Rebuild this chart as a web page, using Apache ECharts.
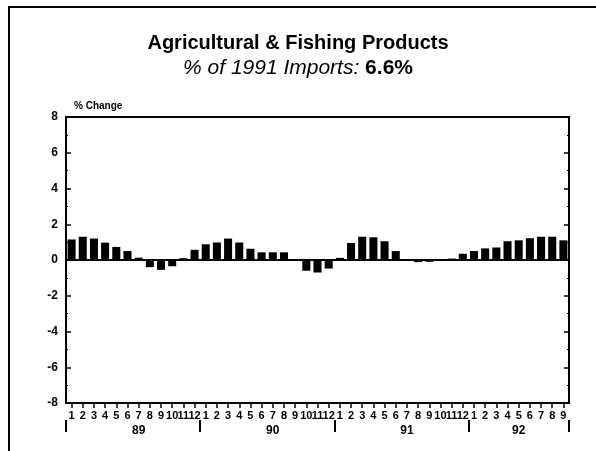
<!DOCTYPE html>
<html>
<head>
<meta charset="utf-8">
<script src="https://cdn.jsdelivr.net/npm/echarts@6/dist/echarts.min.js"></script>
<style>
  html, body { margin: 0; padding: 0; background: #fff; }
  #chart { width: 596px; height: 451px; }
</style>
</head>
<body>
<div id="chart"></div>
<script>
// Monthly % change, Jan 89 .. Sep 92
const months = [
    '1','2','3','4','5','6','7','8','9','10','11','12',
    '1','2','3','4','5','6','7','8','9','10','11','12',
    '1','2','3','4','5','6','7','8','9','10','11','12',
    '1','2','3','4','5','6','7','8','9'
];
const values89 = [1.15, 1.3, 1.2, 0.97, 0.73, 0.5, 0.13, -0.4, -0.55, -0.35, 0.1, 0.57];
const values90 = [0.88, 0.98, 1.2, 0.98, 0.63, 0.43, 0.43, 0.43, 0.03, -0.6, -0.7, -0.48];
const values91 = [0.12, 0.95, 1.3, 1.27, 1.05, 0.5, 0.03, -0.12, -0.1, -0.05, 0.08, 0.35];
const values92 = [0.5, 0.65, 0.7, 1.05, 1.1, 1.22, 1.3, 1.3, 1.1];
const yearLabels = { 6: '89', 18: '90', 30: '91', 40: '92' };
const yTicks = { min: -8, max: 8, step: 2 };

const allValues = values89.concat(values90, values91, values92);
const font = '"Liberation Sans", Arial, sans-serif';

const chart = echarts.init(document.getElementById('chart'));

chart.setOption({
    animation: false,
    backgroundColor: '#fff',
    textStyle: { fontFamily: font, color: '#000' },
    title: {
        text: 'Agricultural & Fishing Products',
        left: 'center',
        top: 28,
        itemGap: 5,
        textStyle: { fontSize: 20, fontWeight: 'bold', color: '#000', fontFamily: font },
        subtext: '{i|% of 1991 Imports: }{b|6.6%}',
        subtextStyle: {
            rich: {
                i: { fontSize: 21, fontStyle: 'italic', color: '#000', fontFamily: font },
                b: { fontSize: 21, fontWeight: 'bold', color: '#000', fontFamily: font }
            }
        }
    },
    graphic: [{
        type: 'rect',
        shape: { x: 9, y: 7, width: 620, height: 470 },
        style: { fill: 'none', stroke: '#000', lineWidth: 2 },
        silent: true
    }],
    grid: {
        left: 66, right: 27, top: 117, bottom: 48,
        show: true, borderColor: '#000', borderWidth: 2
    },
    xAxis: [{
        type: 'category',
        data: months,
        position: 'bottom',
        axisLine: { show: true, onZero: false, lineStyle: { color: '#000', width: 2 } },
        axisTick: { show: true, alignWithLabel: true, length: 5, lineStyle: { color: '#000', width: 1.5 } },
        axisLabel: { interval: 0, margin: 7, fontSize: 11, fontWeight: 'bold', color: '#000', fontFamily: font }
    }, {
        type: 'category',
        data: months,
        position: 'bottom',
        offset: 17,
        axisLine: { show: false, onZero: false },
        axisTick: {
            show: true, length: 12,
            interval: function (i) { return i % 12 === 0; },
            lineStyle: { color: '#000', width: 2 }
        },
        axisLabel: {
            interval: 0, margin: 5, fontSize: 12, fontWeight: 'bold', color: '#000', fontFamily: font,
            formatter: function (v, i) { return yearLabels[i] || ''; }
        }
    }],
    yAxis: [{
        type: 'value',
        min: yTicks.min, max: yTicks.max, interval: yTicks.step,
        name: '% Change',
        nameLocation: 'end',
        nameGap: 6,
        nameTextStyle: { align: 'left', fontSize: 10, fontWeight: 'bold', color: '#000', fontFamily: font, padding: [0, 0, 0, 8] },
        axisLine: { show: true, lineStyle: { color: '#000', width: 2 } },
        axisTick: { show: true, inside: true, length: 5, lineStyle: { color: '#000', width: 1.5 } },
        minorTick: { show: true, splitNumber: 2, length: 2, lineStyle: { color: '#000' } },
        splitLine: { show: false },
        axisLabel: { margin: 8, fontSize: 12, fontWeight: 'bold', color: '#000', fontFamily: font }
    }, {
        type: 'value',
        position: 'right',
        min: yTicks.min, max: yTicks.max, interval: yTicks.step,
        axisLine: { show: true, lineStyle: { color: '#000', width: 2 } },
        axisTick: { show: true, inside: true, length: 5, lineStyle: { color: '#000', width: 1.5 } },
        minorTick: { show: true, splitNumber: 2, length: 2, lineStyle: { color: '#000' } },
        splitLine: { show: false },
        axisLabel: { show: false }
    }],
    series: [{
        type: 'bar',
        data: allValues,
        barCategoryGap: '28%',
        itemStyle: { color: '#000' },
        markLine: {
            silent: true,
            symbol: 'none',
            label: { show: false },
            lineStyle: { color: '#000', width: 2, type: 'solid' },
            data: [{ yAxis: 0 }]
        }
    }]
});
</script>
</body>
</html>
